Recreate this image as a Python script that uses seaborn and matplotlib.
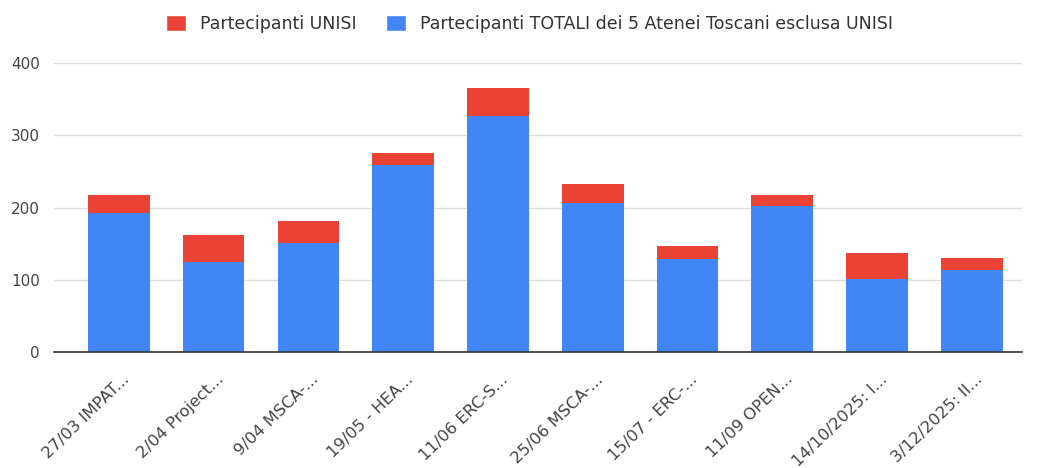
import matplotlib
matplotlib.use("Agg")
import matplotlib.pyplot as plt
import matplotlib.transforms as mtransforms
import seaborn as sns
import pandas as pd
from matplotlib.patches import Patch

categories = ["27/03 IMPAT...", "2/04 Project...", "9/04 MSCA-...", "19/05 - HEA...", "11/06 ERC-S...",
              "25/06 MSCA-...", "15/07 - ERC-...", "11/09 OPEN...", "14/10/2025: I...", "3/12/2025: II..."]
unisi = [24, 38, 30, 16, 38, 26, 18, 15, 36, 17]
altri = [193, 124, 151, 259, 327, 207, 129, 202, 101, 113]

label_unisi = "Partecipanti UNISI"
label_altri = "Partecipanti TOTALI dei 5 Atenei Toscani esclusa UNISI"

BLUE = "#4285F4"
RED = "#EA4335"

sns.set_theme(style="white")
plt.rcParams["font.family"] = ["DejaVu Sans"]

df = pd.DataFrame({"cat": categories, "unisi": unisi, "altri": altri})
df["totale"] = df["unisi"] + df["altri"]

fig = plt.figure(figsize=(10.37, 4.68), dpi=100)
ax = fig.add_axes([0.052, 0.248, 0.9335, 0.617])

sns.barplot(data=df, x="cat", y="totale", color=RED, width=0.65, saturation=1, ax=ax, zorder=3,
            linewidth=0)
sns.barplot(data=df, x="cat", y="altri", color=BLUE, width=0.65, saturation=1, ax=ax, zorder=3,
            linewidth=0)

ax.set_ylim(0, 400)
ax.set_xlim(-0.686, 9.53)
ax.set_yticks([0, 100, 200, 300, 400])
ax.yaxis.grid(True, color="#dddddd", linewidth=1, zorder=0)
ax.set_axisbelow(True)
for s in ["top", "right", "left"]:
    ax.spines[s].set_visible(False)
ax.spines["bottom"].set_color("#333333")
ax.spines["bottom"].set_linewidth(1.2)
ax.spines["bottom"].set_zorder(4)
ax.set_xlabel("")
ax.set_ylabel("")
ax.tick_params(axis="both", length=0, colors="#444444", labelsize=11)
ax.tick_params(axis="y", pad=10)
ax.tick_params(axis="x", pad=0)
ax.set_xticks(range(len(categories)))
ax.set_xticklabels(categories, rotation=44, ha="right", va="center", rotation_mode="anchor",
                   fontsize=11.8, color="#444444")
offset = mtransforms.ScaledTranslation(8 / 100, -25 / 100, fig.dpi_scale_trans)
for lbl in ax.get_xticklabels():
    lbl.set_transform(lbl.get_transform() + offset)

handles = [Patch(facecolor=RED, label=label_unisi), Patch(facecolor=BLUE, label=label_altri)]
fig.legend(handles=handles, loc="center", bbox_to_anchor=(0.511, 0.949), ncol=2, frameon=False,
           fontsize=12.5, handlelength=1.1, handleheight=1.1, handletextpad=0.85, columnspacing=1.7,
           labelcolor="#333333")

fig.savefig("out.png", dpi=100, facecolor="white")
